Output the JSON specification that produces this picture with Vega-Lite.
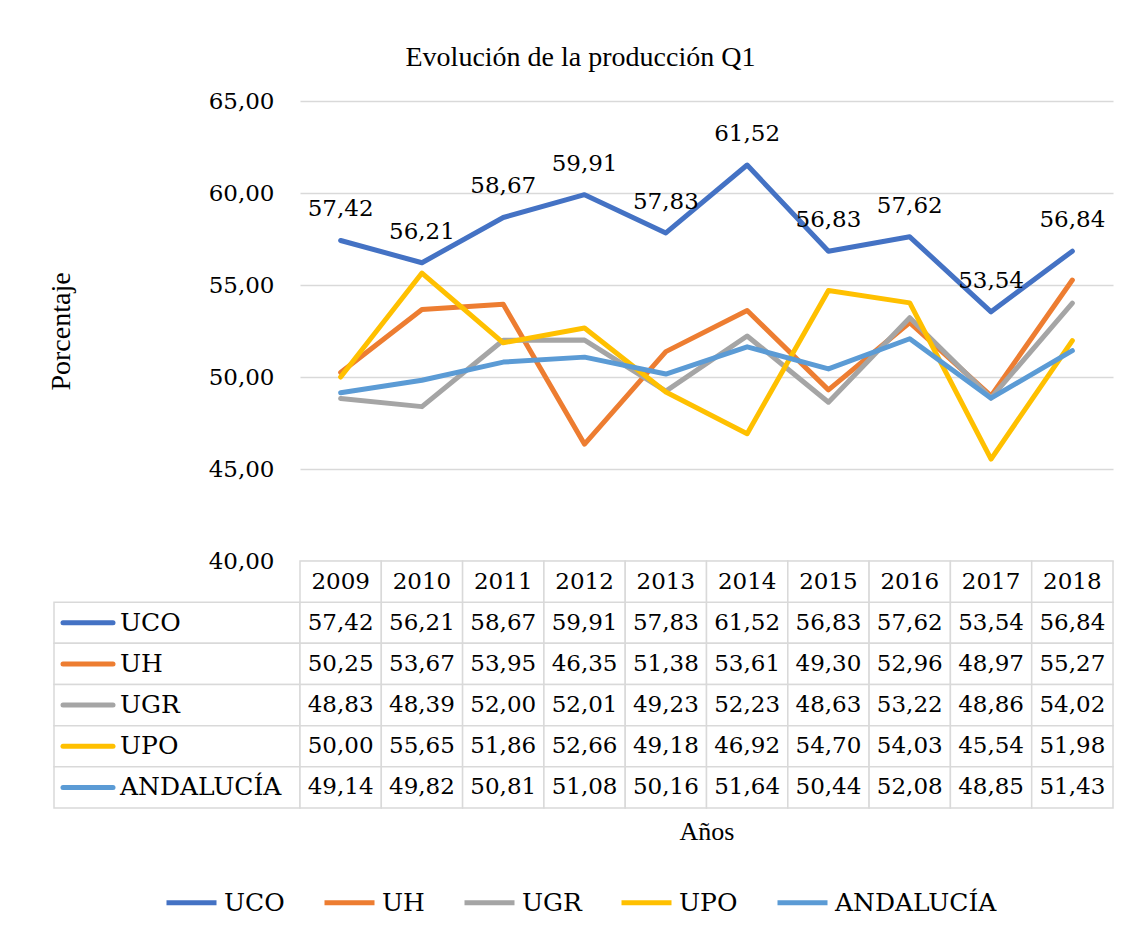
{
  "$schema": "https://vega.github.io/schema/vega-lite/v6.json",
  "background": "white",
  "padding": {"left": 47, "top": 44, "right": 10, "bottom": 10},
  "config": {
    "font": "Liberation Serif",
    "locale": {"number": {"decimal": ",", "thousands": ".", "grouping": [3], "currency": ["", " €"]}},
    "view": {"stroke": null},
    "axis": {"labelColor": "black", "titleColor": "black", "labelFont": "DejaVu Serif", "titleFont": "Liberation Serif"},
    "legend": {
      "labelFontSize": 25, "labelFont": "DejaVu Serif", "labelColor": "black",
      "symbolType": "stroke", "symbolSize": 2500, "symbolStrokeWidth": 5,
      "columnPadding": 29, "labelOffset": 5, "labelLimit": 400,
      "orient": "none", "direction": "horizontal", "legendX": 110, "legendY": 774
    }
  },
  "title": {"text": "Evolución de la producción Q1", "fontSize": 28, "font": "Liberation Serif", "fontWeight": "normal", "color": "black", "anchor": "middle", "offset": 18},
  "datasets": {
    "d": [
      {"series": "UCO", "year": 2009, "value": 57.42}, {"series": "UCO", "year": 2010, "value": 56.21}, {"series": "UCO", "year": 2011, "value": 58.67}, {"series": "UCO", "year": 2012, "value": 59.91}, {"series": "UCO", "year": 2013, "value": 57.83}, {"series": "UCO", "year": 2014, "value": 61.52}, {"series": "UCO", "year": 2015, "value": 56.83}, {"series": "UCO", "year": 2016, "value": 57.62}, {"series": "UCO", "year": 2017, "value": 53.54}, {"series": "UCO", "year": 2018, "value": 56.84},
      {"series": "UH", "year": 2009, "value": 50.25}, {"series": "UH", "year": 2010, "value": 53.67}, {"series": "UH", "year": 2011, "value": 53.95}, {"series": "UH", "year": 2012, "value": 46.35}, {"series": "UH", "year": 2013, "value": 51.38}, {"series": "UH", "year": 2014, "value": 53.61}, {"series": "UH", "year": 2015, "value": 49.30}, {"series": "UH", "year": 2016, "value": 52.96}, {"series": "UH", "year": 2017, "value": 48.97}, {"series": "UH", "year": 2018, "value": 55.27},
      {"series": "UGR", "year": 2009, "value": 48.83}, {"series": "UGR", "year": 2010, "value": 48.39}, {"series": "UGR", "year": 2011, "value": 52.00}, {"series": "UGR", "year": 2012, "value": 52.01}, {"series": "UGR", "year": 2013, "value": 49.23}, {"series": "UGR", "year": 2014, "value": 52.23}, {"series": "UGR", "year": 2015, "value": 48.63}, {"series": "UGR", "year": 2016, "value": 53.22}, {"series": "UGR", "year": 2017, "value": 48.86}, {"series": "UGR", "year": 2018, "value": 54.02},
      {"series": "UPO", "year": 2009, "value": 50.00}, {"series": "UPO", "year": 2010, "value": 55.65}, {"series": "UPO", "year": 2011, "value": 51.86}, {"series": "UPO", "year": 2012, "value": 52.66}, {"series": "UPO", "year": 2013, "value": 49.18}, {"series": "UPO", "year": 2014, "value": 46.92}, {"series": "UPO", "year": 2015, "value": 54.70}, {"series": "UPO", "year": 2016, "value": 54.03}, {"series": "UPO", "year": 2017, "value": 45.54}, {"series": "UPO", "year": 2018, "value": 51.98},
      {"series": "ANDALUCÍA", "year": 2009, "value": 49.14}, {"series": "ANDALUCÍA", "year": 2010, "value": 49.82}, {"series": "ANDALUCÍA", "year": 2011, "value": 50.81}, {"series": "ANDALUCÍA", "year": 2012, "value": 51.08}, {"series": "ANDALUCÍA", "year": 2013, "value": 50.16}, {"series": "ANDALUCÍA", "year": 2014, "value": 51.64}, {"series": "ANDALUCÍA", "year": 2015, "value": 50.44}, {"series": "ANDALUCÍA", "year": 2016, "value": 52.08}, {"series": "ANDALUCÍA", "year": 2017, "value": 48.85}, {"series": "ANDALUCÍA", "year": 2018, "value": 51.43}
    ]
  },
  "data": {"name": "d"},
  "columns": 2,
  "spacing": 0,
  "bounds": "flush",
  "concat": [
    {
      "width": 246, "height": 460,
      "transform": [{"filter": "datum.year === 2009 && datum.series === 'UCO'"}],
      "mark": {"type": "text", "text": ""}
    },
    {
      "width": 813, "height": 460,
      "encoding": {
        "x": {"field": "year", "type": "ordinal", "scale": {"type": "point", "padding": 0.5, "domain": [2009, 2010, 2011, 2012, 2013, 2014, 2015, 2016, 2017, 2018]}, "axis": null},
        "y": {"field": "value", "type": "quantitative", "scale": {"domain": [40, 65], "nice": false, "zero": false},
          "axis": {"values": [40, 45, 50, 55, 60, 65], "format": ".2f", "title": "Porcentaje", "titleFontSize": 28, "titleFontWeight": "normal", "titlePadding": 133, "labelFontSize": 23, "labelFont": "DejaVu Serif", "labelPadding": 26, "labelFlush": false, "domain": false, "ticks": false, "gridColor": "#D9D9D9", "gridWidth": 1.5}}
      },
      "layer": [
        {
          "mark": {"type": "line", "strokeWidth": 5, "strokeCap": "round", "strokeJoin": "round"},
          "encoding": {
            "color": {"field": "series", "type": "nominal", "title": null,
              "scale": {"domain": ["UCO", "UH", "UGR", "UPO", "ANDALUCÍA"], "range": ["#4472C4", "#ED7D31", "#A5A5A5", "#FFC000", "#5B9BD5"]}}
          }
        },
        {
          "transform": [{"filter": "datum.series === 'UCO'"}],
          "mark": {"type": "text", "font": "DejaVu Serif", "fontSize": 23, "dy": -24, "baseline": "alphabetic", "color": "black"},
          "encoding": {"text": {"field": "value", "type": "quantitative", "format": ".2f"}}
        }
      ]
    },
    {
      "width": 246, "height": 247,
      "transform": [{"filter": "datum.year === 2009"}],
      "encoding": {
        "y": {"field": "series", "type": "nominal", "scale": {"domain": ["hdr", "UCO", "UH", "UGR", "UPO", "ANDALUCÍA"], "paddingInner": 0, "paddingOuter": 0}, "axis": null}
      },
      "layer": [
        {"mark": {"type": "rect", "fill": "white", "stroke": "#D9D9D9", "strokeWidth": 1.5}},
        {
          "mark": {"type": "point", "shape": "stroke", "size": 2500, "strokeWidth": 5, "strokeCap": "round", "filled": false, "opacity": 1, "xOffset": -89},
          "encoding": {"color": {"field": "series", "type": "nominal", "title": null,
            "scale": {"domain": ["UCO", "UH", "UGR", "UPO", "ANDALUCÍA"], "range": ["#4472C4", "#ED7D31", "#A5A5A5", "#FFC000", "#5B9BD5"]}}}
        },
        {
          "mark": {"type": "text", "font": "DejaVu Serif", "align": "left", "dx": -57, "fontSize": 25, "baseline": "middle", "color": "black"},
          "encoding": {"text": {"field": "series", "type": "nominal"}}
        }
      ]
    },
    {
      "width": 813, "height": 247,
      "encoding": {
        "x": {"field": "year", "type": "ordinal", "scale": {"domain": [2009, 2010, 2011, 2012, 2013, 2014, 2015, 2016, 2017, 2018], "paddingInner": 0, "paddingOuter": 0},
          "axis": {"title": "Años", "labels": false, "ticks": false, "domain": false, "titleFontSize": 26, "titleFontWeight": "normal", "titlePadding": 10}}
      },
      "layer": [
        {
          "mark": {"type": "rect", "fill": "white", "stroke": "#D9D9D9", "strokeWidth": 1.5},
          "encoding": {"y": {"field": "series", "type": "nominal", "scale": {"domain": ["hdr", "UCO", "UH", "UGR", "UPO", "ANDALUCÍA"], "paddingInner": 0, "paddingOuter": 0}, "axis": null}}
        },
        {
          "transform": [{"filter": "datum.series === 'UCO'"}],
          "mark": {"type": "rect", "fill": "white", "stroke": "#D9D9D9", "strokeWidth": 1.5},
          "encoding": {"y": {"datum": "hdr", "type": "nominal"}}
        },
        {
          "mark": {"type": "text", "font": "DejaVu Serif", "fontSize": 23, "baseline": "middle", "color": "black"},
          "encoding": {
            "y": {"field": "series", "type": "nominal"},
            "text": {"field": "value", "type": "quantitative", "format": ".2f"}
          }
        },
        {
          "transform": [{"filter": "datum.series === 'UCO'"}],
          "mark": {"type": "text", "font": "DejaVu Serif", "fontSize": 23, "baseline": "middle", "color": "black"},
          "encoding": {
            "y": {"datum": "hdr", "type": "nominal"},
            "text": {"field": "year", "type": "ordinal"}
          }
        }
      ]
    }
  ]
}
